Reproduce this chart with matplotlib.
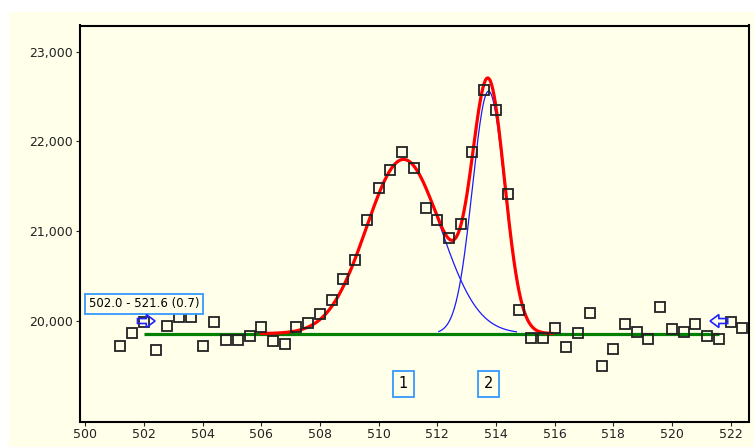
import numpy as np
import matplotlib
matplotlib.use("Agg")
import matplotlib.pyplot as plt
from matplotlib.patches import Rectangle, FancyArrow
from matplotlib.ticker import FuncFormatter

# ---- data ----
energy = [501.2, 501.6, 502.0, 502.4, 502.8, 503.2, 503.6, 504.0, 504.4, 504.8,
          505.2, 505.6, 506.0, 506.4, 506.8, 507.2, 507.6, 508.0, 508.4, 508.8,
          509.2, 509.6, 510.0, 510.4, 510.8, 511.2, 511.6, 512.0, 512.4, 512.8,
          513.2, 513.6, 514.0, 514.4, 514.8, 515.2, 515.6, 516.0, 516.4, 516.8,
          517.2, 517.6, 518.0, 518.4, 518.8, 519.2, 519.6, 520.0, 520.4, 520.8,
          521.2, 521.6, 522.0, 522.4]
counts = [19723, 19872, 19994, 19679, 19950, 20042, 20042, 19727, 19994, 19790,
          19790, 19835, 19928, 19776, 19742, 19931, 19983, 20079, 20235, 20473,
          20684, 21129, 21481, 21682, 21878, 21700, 21255, 21125, 20929, 21081,
          21878, 22571, 22345, 21418, 20124, 19816, 19816, 19920, 19709, 19872,
          20090, 19501, 19690, 19964, 19883, 19801, 20153, 19909, 19883, 19964,
          19835, 19801, 19994, 19920]

# fitted peak parameters (Gaussian components on a flat background)
peak_labels = ["1", "2"]
peak_centers = [510.85, 513.75]
peak_heights = [1940, 2700]
peak_sigmas = [1.27, 0.55]
peak_draw_from = [507.0, 512.05]
peak_draw_to = [514.7, 515.45]
envelope_range = [506.0, 515.9]
background_level = 19860
region_start, region_end = 502.0, 521.6
region_label = "502.0 - 521.6 (0.7)"

x_ticks = [500, 502, 504, 506, 508, 510, 512, 514, 516, 518, 520, 522]
y_ticks = [20000, 21000, 22000, 23000]

cream = "#FFFFEA"

fig = plt.figure(figsize=(7.54, 4.47), dpi=100, facecolor="white")
fig.patches.append(Rectangle((9 / 754, 0), 1, 1 - 12 / 447, transform=fig.transFigure,
                             facecolor=cream, edgecolor="none", zorder=-10))
ax = fig.add_axes([80 / 754, 1 - 421.5 / 447, (748.5 - 80) / 754, (421.5 - 25.5) / 447])
ax.set_facecolor(cream)


def gauss(x, c, h, s):
    return h * np.exp(-(x - c) ** 2 / (2 * s * s))


# background line
ax.plot([region_start, region_end], [background_level, background_level],
        color="#008000", lw=2.3, zorder=2, solid_capstyle="butt")

# components
for c, h, s, a, b in zip(peak_centers, peak_heights, peak_sigmas, peak_draw_from, peak_draw_to):
    xx = np.linspace(a, b, 300)
    ax.plot(xx, background_level + gauss(xx, c, h, s), color="#1a1aff", lw=0.9, zorder=3)

# envelope
xx = np.linspace(envelope_range[0], envelope_range[1], 500)
env = background_level + sum(gauss(xx, c, h, s) for c, h, s in zip(peak_centers, peak_heights, peak_sigmas))
ax.plot(xx, env, color="#ff0000", lw=2.3, zorder=4)

# observed data
ax.plot(energy, counts, linestyle="none", marker="s", markersize=7, markerfacecolor="none",
        markeredgecolor="#222222", markeredgewidth=1.3, zorder=5)

# peak labels
for lab, c in zip(peak_labels, peak_centers):
    ax.text(c, 19300, lab, ha="center", va="center", fontsize=10.5, color="black", zorder=6,
            bbox=dict(boxstyle="square,pad=0.4", facecolor=cream, edgecolor="#3399ff", lw=1.3))

# region label
ax.text(region_start, 20192, region_label, ha="center", va="center", fontsize=8.5, zorder=6,
        bbox=dict(boxstyle="square,pad=0.3", facecolor=cream, edgecolor="#3399ff", lw=1.3))

# region arrows
ax.add_patch(FancyArrow(region_start - 0.22, 20000, 0.6, 0, width=55, head_width=145,
                        head_length=0.3, length_includes_head=True, fill=False,
                        edgecolor="#2222ff", lw=1.2, zorder=6))
ax.add_patch(FancyArrow(region_end + 0.3, 20000, -0.6, 0, width=55, head_width=145,
                        head_length=0.3, length_includes_head=True, fill=False,
                        edgecolor="#2222ff", lw=1.2, zorder=6))

ax.set_xlim(499.82, 522.61)
ax.set_ylim(18881, 23291)
ax.set_xticks(x_ticks)
ax.set_yticks(y_ticks)
ax.yaxis.set_major_formatter(FuncFormatter(lambda v, p: f"{int(v):,}"))
ax.tick_params(direction="out", length=3, width=0.8, labelsize=9, pad=2, colors="#222222")
for sp in ax.spines.values():
    sp.set_linewidth(1.5)
    sp.set_color("black")

fig.savefig("out.png", dpi=100, facecolor=fig.get_facecolor())
